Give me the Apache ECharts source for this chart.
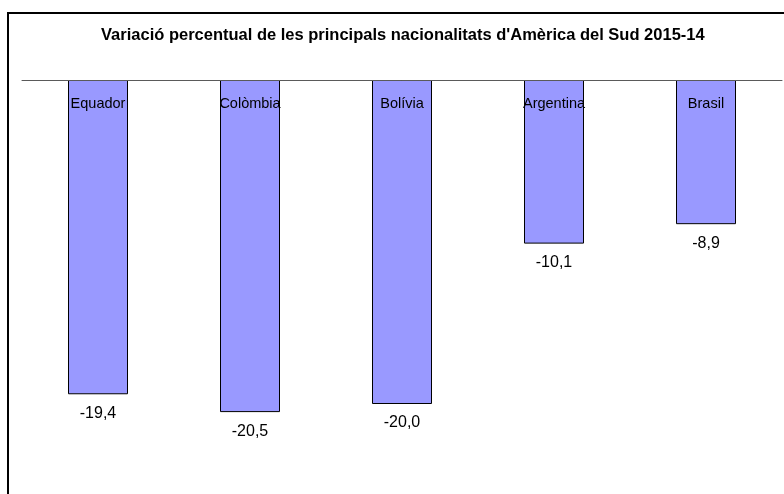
<!DOCTYPE html>
<html lang="ca">

<head>
    <meta charset="UTF-8">
    <title>Variació percentual</title>
    <style>
        html,
        body,
        #container {
            width: 100%;
            height: 100%;
            margin: 0;
            padding: 0;
            background: #fff;
        }
    </style>
    <script src="https://cdn.jsdelivr.net/npm/echarts@6/dist/echarts.min.js"></script>
</head>

<body>
    <div id="container"></div>
    <script>
        var titleText = "Variació percentual de les principals nacionalitats d'Amèrica del Sud 2015-14";
        var countries = ['Equador', 'Colòmbia', 'Bolívia', 'Argentina', 'Brasil'];
        var variation = [-19.4, -20.5, -20.0, -10.1, -8.9];

        var font = "'Liberation Sans', Arial, sans-serif";

        var chart = echarts.init(document.getElementById('container'));

        chart.setOption({
            animation: false,
            title: {
                text: titleText,
                left: 101,
                top: 27,
                padding: 0,
                textStyle: {
                    fontFamily: font,
                    fontSize: 16.5,
                    fontWeight: 'bold',
                    color: '#000'
                }
            },
            graphic: [{
                type: 'rect',
                shape: { x: 8, y: 13, width: 800, height: 500 },
                style: { fill: 'none', stroke: '#000', lineWidth: 2 },
                silent: true
            }],
            grid: {
                left: 22,
                right: 2,
                top: 80,
                height: 405
            },
            xAxis: {
                type: 'category',
                position: 'top',
                data: countries,
                z: 10,
                axisLine: { lineStyle: { color: '#5a5a5a', width: 1 } },
                axisTick: { inside: true, length: 4, lineStyle: { color: '#5a5a5a' } },
                axisLabel: {
                    inside: true,
                    margin: 16,
                    color: '#000',
                    fontFamily: font,
                    fontSize: 14.5
                }
            },
            yAxis: {
                type: 'value',
                min: -25,
                max: 0,
                show: false,
                splitLine: { show: false }
            },
            series: [{
                type: 'bar',
                data: variation,
                barWidth: 60,
                itemStyle: {
                    color: '#9999ff',
                    borderColor: '#000',
                    borderWidth: 1
                },
                label: {
                    show: true,
                    position: 'bottom',
                    distance: 11,
                    color: '#000',
                    fontFamily: font,
                    fontSize: 16,
                    formatter: function (p) {
                        return p.value.toFixed(1).replace('.', ',');
                    }
                }
            }]
        });
    </script>
</body>

</html>
